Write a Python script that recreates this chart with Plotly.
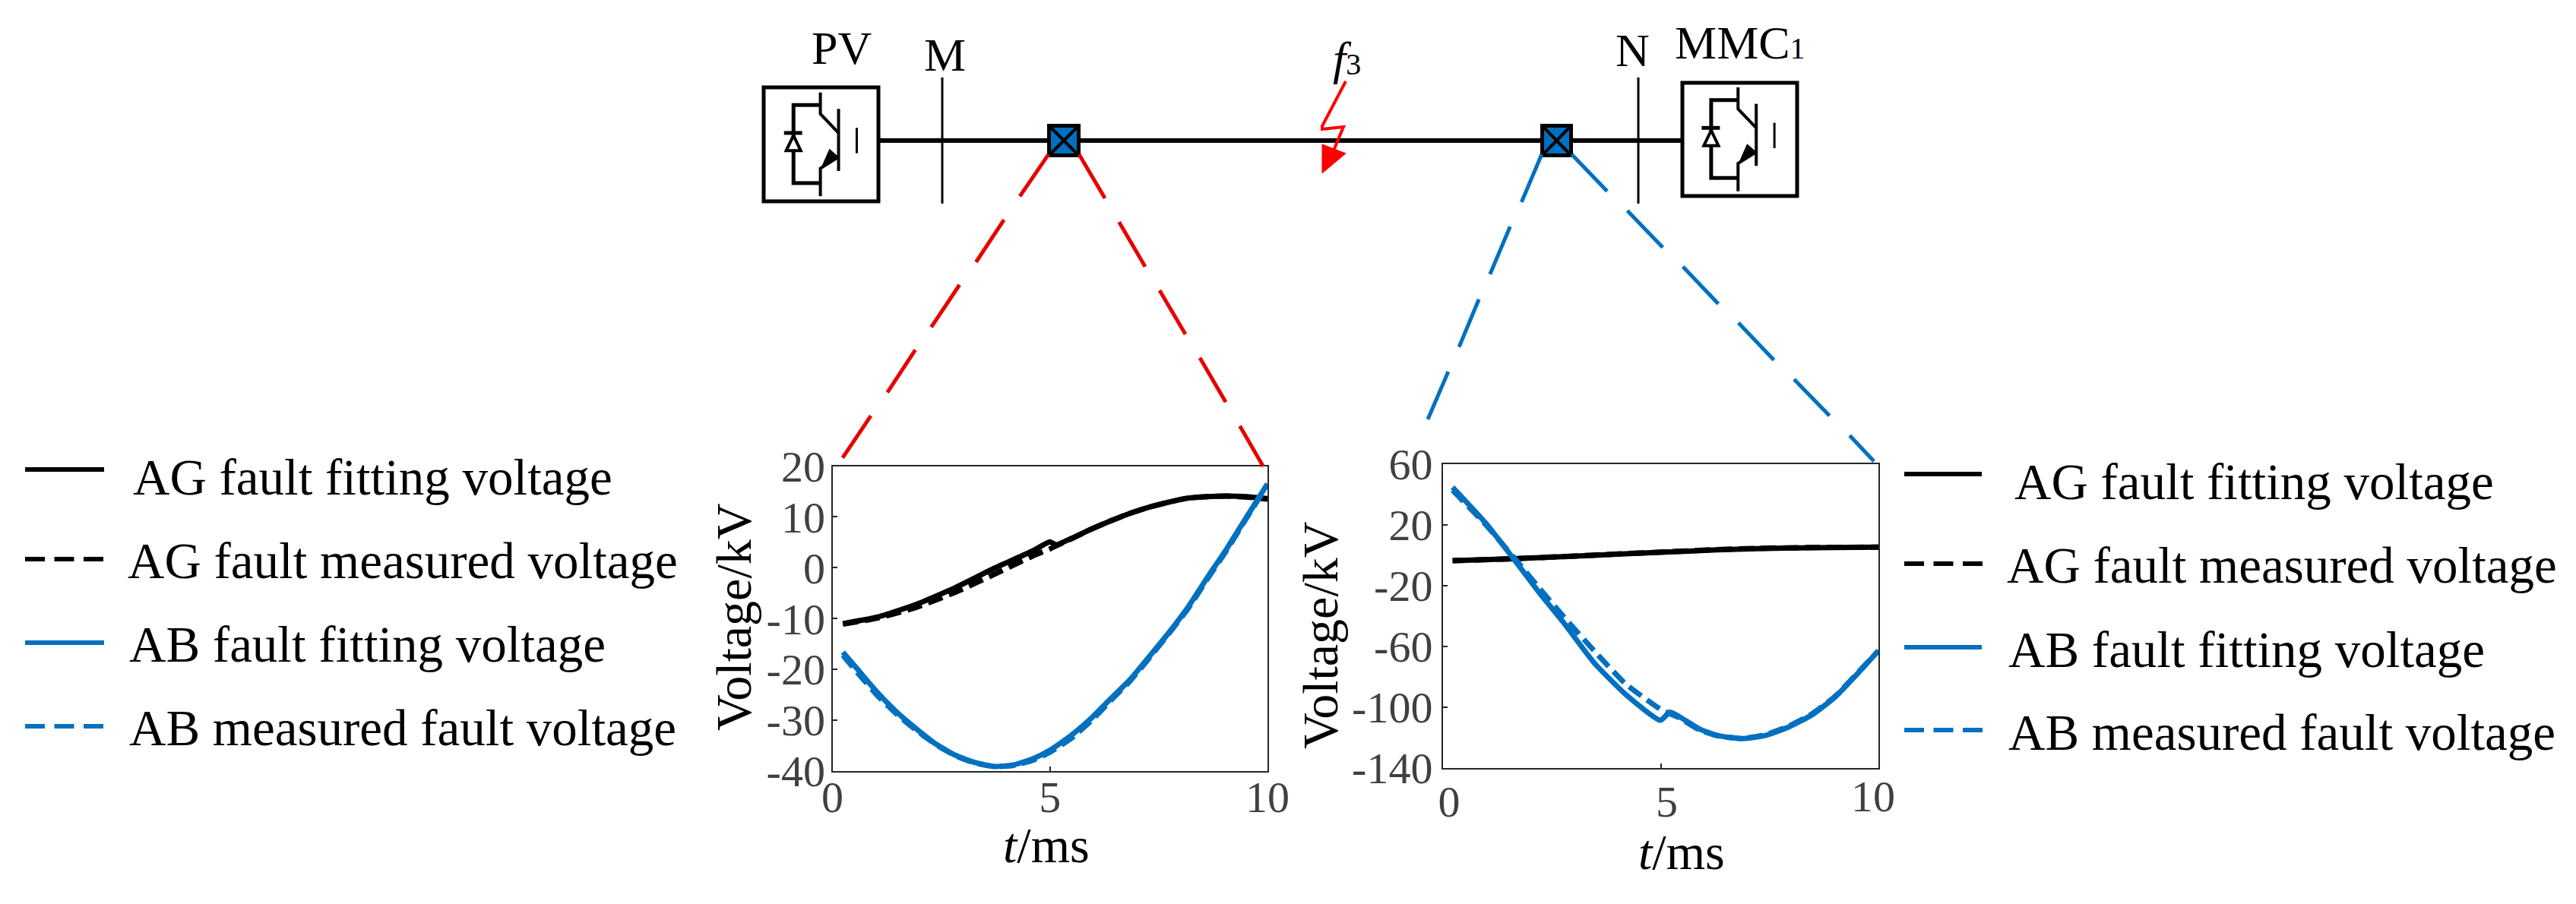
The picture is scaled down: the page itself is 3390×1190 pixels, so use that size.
import plotly.graph_objects as go

W, H = 3390, 1190
FONT = "Liberation Serif"
BLACK, BLUE, RED, GREY = "#000000", "#0070C0", "#E60000", "#404040"

# ---------- data ----------
left_t_fit_ag = [0.24, 1.04, 1.93, 2.83, 3.72, 4.6, 5.0, 5.14, 5.5, 5.95, 6.39, 6.84, 7.28, 7.73, 8.17, 8.62, 9.06, 9.5, 10.0]
left_fit_ag = [-11.0, -9.7, -7.2, -3.9, -0.1, 3.3, 5.1, 4.5, 5.8, 7.6, 9.2, 10.7, 11.9, 12.9, 13.7, 14.0, 14.1, 14.0, 13.6]
left_meas_ag = [-11.1, -9.9, -7.8, -4.8, -1.3, 2.3, 3.7, 4.3, 5.7, 7.6, 9.2, 10.7, 11.9, 12.9, 13.7, 14.0, 14.1, 13.9, 13.5]

left_t_ab = [0.24, 0.6, 1.04, 1.49, 1.93, 2.38, 2.83, 3.27, 3.72, 4.16, 4.6, 5.0, 5.5, 5.95, 6.39, 6.84, 7.28, 7.73, 8.17, 8.62, 9.06, 9.5, 10.0]
left_fit_ab = [-16.6, -20.2, -24.6, -28.5, -31.7, -34.7, -36.9, -38.3, -39.1, -38.8, -37.6, -35.9, -32.9, -29.6, -25.8, -22.0, -17.5, -12.8, -7.8, -1.9, 3.7, 9.7, 16.5]
left_meas_ab = [-17.2, -20.9, -25.2, -28.9, -32.0, -34.8, -37.0, -38.4, -39.1, -38.9, -37.9, -36.3, -33.5, -30.1, -26.2, -22.3, -17.8, -13.0, -8.1, -2.2, 3.4, 9.5, 16.3]

right_t_ag = [0.22, 1.5, 2.76, 4.0, 4.99, 6.3, 7.2, 8.5, 10.0]
right_fit_ag = [-3.7, -2.5, -1.1, 0.6, 1.8, 3.4, 4.2, 4.8, 5.2]
right_meas_ag = [-3.7, -2.5, -1.0, 0.7, 1.9, 3.6, 4.4, 5.0, 5.2]

right_t_ab = [0.22, 0.98, 1.6, 2.23, 2.76, 3.47, 4.19, 4.99, 5.21, 5.43, 5.88, 6.32, 6.86, 7.39, 7.93, 8.46, 9.0, 9.53, 10.0]
right_fit_ab = [44.6, 21.0, -1.7, -25.4, -44.1, -70.8, -91.5, -108.6, -103.3, -106.3, -114.2, -118.7, -120.7, -118.7, -113.2, -105.3, -93.5, -77.7, -62.9]
right_meas_ab = [42.6, 20.0, -0.7, -22.4, -40.2, -62.9, -84.6, -101.3, -104.3, -107.0, -114.8, -119.0, -120.5, -118.2, -112.6, -104.6, -93.0, -77.2, -62.9]

x_ticks = [0, 5, 10]
x_tick_text_left = ["0", "5", "10"]
x_tick_text_right = ["0", "5", ""]
left_y_ticks = [20, 10, 0, -10, -20, -30, -40]
left_y_text = ["20", "10", "0", "-10", "-20", "-30", "-40"]
right_y_ticks = [60, 20, -20, -60, -100, -140]
right_y_text = ["60", "20", "-20", "-60", "-100", "-140"]
legend_left = ["AG fault fitting voltage", "AG fault measured voltage", "AB fault fitting voltage", "AB measured fault voltage"]
legend_right = list(legend_left)
axis_y_title = "Voltage/kV"
axis_x_title = "<i>t</i>/ms"


def px(x):
    return x / W


def py(y):
    return 1 - y / H


fig = go.Figure()


def add(xa, ya, t, y, color, dash=None):
    fig.add_trace(go.Scatter(x=t, y=y, mode="lines", xaxis=xa, yaxis=ya, showlegend=False,
                             line=dict(color=color, width=7, dash=dash, shape="spline", smoothing=0.5)))


MEAS_DASH = "20px,9px"
add("x", "y", left_t_fit_ag, left_fit_ag, BLACK)
add("x", "y", left_t_fit_ag, left_meas_ag, BLACK, MEAS_DASH)
add("x", "y", left_t_ab, left_fit_ab, BLUE)
add("x", "y", left_t_ab, left_meas_ab, BLUE, MEAS_DASH)
add("x2", "y2", right_t_ag, right_fit_ag, BLACK)
add("x2", "y2", right_t_ag, right_meas_ag, BLACK, MEAS_DASH)
add("x2", "y2", right_t_ab, right_fit_ab, BLUE)
add("x2", "y2", right_t_ab, right_meas_ab, BLUE, MEAS_DASH)

tickfont = dict(family=FONT, size=58, color=GREY)
frame = dict(showline=True, mirror=True, linecolor="#262626", linewidth=2, showgrid=False, zeroline=False,
             ticks="inside", ticklen=6, tickwidth=2, tickcolor="#262626", tickfont=tickfont, tickmode="array",
             automargin=False)

shapes, ann = [], []
BASE_K = 0.33


def line(x0, y0, x1, y1, color=BLACK, width=4):
    shapes.append(dict(type="line", xref="paper", yref="paper", x0=px(x0), y0=py(y0), x1=px(x1), y1=py(y1),
                       line=dict(color=color, width=width), layer="above"))


def poly(points, color=BLACK, width=4, fill=None):
    path = "M " + " L ".join(f"{px(a):.5f},{py(b):.5f}" for a, b in points)
    if fill:
        path += " Z"
    shapes.append(dict(type="path", xref="paper", yref="paper", path=path,
                       line=dict(color=color, width=width), fillcolor=fill or "rgba(0,0,0,0)", layer="above"))


def rect(x0, y0, x1, y1, color=BLACK, width=4, fill=None):
    shapes.append(dict(type="rect", xref="paper", yref="paper", x0=px(x0), y0=py(y0), x1=px(x1), y1=py(y1),
                       line=dict(color=color, width=width), fillcolor=fill or "rgba(0,0,0,0)", layer="above"))


def text(x, baseline, s, size=64, color=BLACK, anchor="left", angle=0):
    ann.append(dict(xref="paper", yref="paper", x=px(x), y=py(baseline - BASE_K * size), text=s, showarrow=False,
                    xanchor=anchor, yanchor="middle", textangle=angle, align="left",
                    font=dict(family=FONT, size=size, color=color)))


# ---------- one-line diagram ----------
def igbt(dx, dy):
    X = lambda z: 960 + (z + dx) / 1.045
    Y = lambda z: (z + dy) / 3
    poly([(X(125), Y(365)), (X(125), Y(450)), (X(150), Y(525))], width=4)
    line(X(150), Y(430), X(150), Y(675), width=4)
    poly([(X(150), Y(620)), (X(125), Y(665)), (X(125), Y(775))], width=4)
    poly([(X(125), Y(415)), (X(88), Y(415)), (X(88), Y(723)), (X(125), Y(723))], width=5)
    poly([(X(78), Y(595)), (X(98), Y(595)), (X(88), Y(535))], width=4, fill="#FFFFFF")
    line(X(75), Y(525), X(100), Y(525), width=5)
    line(X(175), Y(505), X(175), Y(605), width=3)
    poly([(X(128), Y(660)), (X(138), Y(595)), (X(148), Y(620))], width=3, fill=BLACK)


line(1158, 185, 2212, 185, width=6)
rect(1005, 115, 1156, 265, width=5)
igbt(0, 0)
rect(2214, 109, 2365, 258, width=5)
igbt(1262, -20)
line(1240, 102, 1240, 268, width=3)
line(2156, 102, 2156, 268, width=3)
for x0, x1 in ((1380.5, 1419.5), (2029.5, 2067.5)):
    rect(x0, 165.5, x1, 204.5, width=5, fill=BLUE)
    line(x0, 165.5, x1, 204.5, width=4)
    line(x0, 204.5, x1, 165.5, width=4)

poly([(1771, 107), (1740, 166), (1740, 170), (1768, 167), (1753, 203)], color="#FF0000", width=4)
poly([(1740, 190), (1771, 202), (1740, 228)], color="#FF0000", width=1, fill="#FF0000")

RED_LEFT = [(758, 40, 663, 205), (610, 298, 517, 465), (462, 555, 368, 722), (315, 812, 222, 980), (167, 1072, 73, 1238)]
RED_RIGHT = [(860, 40, 946, 213), (993, 307, 1080, 483), (1128, 577, 1214, 750), (1262, 843, 1348, 1018), (1395, 1112, 1473, 1272)]
BLUE_LEFT = [(427, 40, 360, 228), (322, 325, 255, 513), (218, 612, 152, 800), (116, 898, 48, 1086)]
BLUE_RIGHT = [(527, 40, 645, 185), (712, 262, 830, 407), (897, 483, 1015, 630), (1082, 705, 1200, 852), (1267, 928, 1385, 1072), (1452, 1150, 1533, 1252)]
for segs, base, col in ((RED_LEFT, 1080, RED), (RED_RIGHT, 1080, RED), (BLUE_LEFT, 1860, BLUE), (BLUE_RIGHT, 1860, BLUE)):
    for a, b, c, d in segs:
        line(base + a / 2.529, 190 + b / 3, base + c / 2.529, 190 + d / 3, color=col, width=5)

text(1066, 83, "PV", 62)
text(1214, 92, "M", 62)
text(2124, 86, "N", 62)
text(2202, 76, 'MMC<span style="font-size:40px">1</span>', 62)
text(1752, 97, '<i>f</i><span style="font-size:40px">3</span>', 62)

# ---------- hand-made legends ----------
for ys, x0, x1, xs, bases, names in (
    ((618, 736, 846, 956), 33, 137, (173, 166, 168, 168), (650, 760, 870, 980), legend_left),
    ((624, 742, 852, 961), 2506, 2608, (2649, 2639, 2641, 2641), (656, 766, 877, 986), legend_right),
):
    for i in range(4):
        col = BLACK if i < 2 else BLUE
        if i % 2 == 0:
            line(x0, ys[i], x1, ys[i], color=col, width=6)
        else:
            for k in range(3):
                line(x0 + k * 38.5, ys[i], x0 + k * 38.5 + 26, ys[i], color=col, width=6)
        text(xs[i], bases[i], names[i], 67)

# ---------- axis titles ----------
text(965, 813 + BASE_K * 66, axis_y_title, 66, anchor="center", angle=-90)
text(1737, 837 + BASE_K * 66, axis_y_title, 66, anchor="center", angle=-90)
text(1377, 1134, axis_x_title, 66, anchor="center")
text(2213, 1143, axis_x_title, 66, anchor="center")

# the "10" on the right panel sits higher than its neighbours, so it is placed on its own
ann.append(dict(xref="x2", yref="paper", x=x_ticks[2], y=py(1048), text="10", showarrow=False, xanchor="center",
                yanchor="middle", xshift=-7, font=tickfont))

fig.update_layout(
    width=W, height=H, margin=dict(l=0, r=0, t=0, b=0), paper_bgcolor="white", plot_bgcolor="white",
    showlegend=False, shapes=shapes, annotations=ann,
    xaxis=dict(frame, domain=[px(1095.5), px(1668)], range=[0, 10], anchor="y", tickvals=x_ticks,
               ticktext=x_tick_text_left, ticklabelstandoff=-18),
    yaxis=dict(frame, domain=[py(1015), py(613.5)], range=[-40, 20], anchor="x", tickvals=left_y_ticks,
               ticktext=left_y_text, ticklabelstandoff=-4),
    xaxis2=dict(frame, domain=[px(1899), px(2472)], range=[0, 10], anchor="y2", tickvals=x_ticks,
                ticktext=x_tick_text_right, ticklabelstandoff=-8, ticklabelshift=8),
    yaxis2=dict(frame, domain=[py(1011), py(610.5)], range=[-140, 60], anchor="x2", tickvals=right_y_ticks,
                ticktext=right_y_text, ticklabelstandoff=0),
)

fig.write_html("out.html", config=dict(displayModeBar=False),
               post_script="document.body.style.margin='0';document.documentElement.style.overflow='hidden';")
